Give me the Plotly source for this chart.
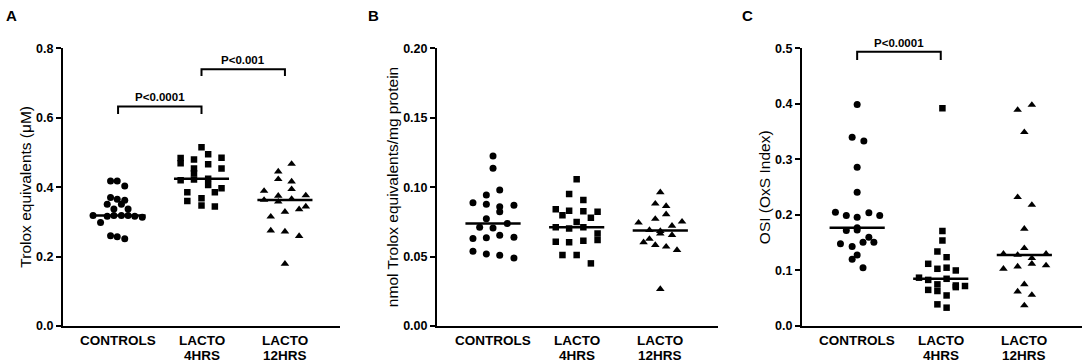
import numpy as np
import plotly.graph_objects as go

W, H = 1084, 363
FONT = "Arial, Liberation Sans, sans-serif"

categories = ["CONTROLS", "LACTO<br>4HRS", "LACTO<br>12HRS"]

# ---------------- Panel A : Trolox equivalents (uM) ----------------
a_controls = [0.418, 0.418, 0.403, 0.370, 0.365, 0.362, 0.351, 0.351, 0.337, 0.337,
              0.318, 0.316, 0.318, 0.318, 0.318, 0.316, 0.313, 0.298, 0.260, 0.257, 0.251]
a_controls_dx = [-0.09, -0.01, 0.08, -0.09, -0.01, 0.08, -0.13, 0.04, -0.05, 0.12,
                 -0.30, -0.13, -0.05, 0.04, 0.12, 0.20, 0.29, -0.21, -0.09, -0.01, 0.08]
a_4hrs = [0.515, 0.495, 0.485, 0.484, 0.480, 0.469, 0.466, 0.454, 0.454, 0.440,
          0.420, 0.422, 0.424, 0.406, 0.397, 0.385, 0.385, 0.368, 0.360, 0.347, 0.344]
a_4hrs_dx = [0.00, 0.08, 0.24, -0.25, -0.09, -0.25, 0.08, 0.24, -0.09, -0.09,
             -0.25, -0.09, 0.08, 0.08, 0.24, -0.17, 0.16, 0.00, -0.17, 0.00, 0.16]
a_12hrs = [0.467, 0.445, 0.423, 0.416, 0.394, 0.389, 0.363, 0.375, 0.358, 0.366,
           0.376, 0.344, 0.336, 0.329, 0.315, 0.275, 0.272, 0.259, 0.179]
a_12hrs_dx = [0.08, -0.08, -0.08, 0.08, 0.08, -0.25, -0.25, -0.08, -0.08, 0.08,
              0.25, 0.25, 0.17, 0.00, -0.17, -0.17, 0.00, 0.17, 0.00]

# ---------------- Panel B : nmol Trolox equivalents/mg protein ----------------
b_controls = [0.1224, 0.1136, 0.0979, 0.0943, 0.0888, 0.0876, 0.0859, 0.0823, 0.0869, 0.0773,
              0.0739, 0.0711, 0.0706, 0.0631, 0.0636, 0.0653, 0.0639, 0.0538, 0.0519, 0.0509, 0.0490]
b_controls_dx = [0.00, 0.00, 0.08, -0.08, -0.24, -0.08, 0.08, 0.08, 0.25, -0.08,
                 0.17, -0.16, 0.00, -0.24, -0.08, 0.08, 0.25, -0.24, -0.08, 0.08, 0.25]
b_4hrs = [0.1056, 0.0951, 0.0907, 0.0840, 0.0830, 0.0826, 0.0823, 0.0797, 0.0780, 0.0749,
          0.0711, 0.0703, 0.0711, 0.0667, 0.0619, 0.0614, 0.0607, 0.0603, 0.0511, 0.0511, 0.0451]
b_4hrs_dx = [0.00, -0.09, 0.08, -0.25, -0.09, 0.08, 0.25, -0.17, 0.17, 0.00,
             -0.25, -0.09, 0.08, 0.25, 0.25, 0.08, -0.25, -0.09, -0.17, 0.00, 0.17]
b_12hrs = [0.0963, 0.0881, 0.0864, 0.0804, 0.0771, 0.0744, 0.0751, 0.0722, 0.0691, 0.0684,
           0.0665, 0.0655, 0.0603, 0.0627, 0.0583, 0.0571, 0.0547, 0.0266]
b_12hrs_dx = [0.00, -0.06, 0.07, 0.07, -0.06, -0.26, 0.26, 0.14, -0.13, 0.00,
              0.00, 0.14, -0.20, -0.13, -0.06, 0.07, 0.20, 0.00]

# ---------------- Panel C : OSI (OxS Index) ----------------
c_controls = [0.399, 0.340, 0.333, 0.286, 0.241, 0.205, 0.199, 0.196, 0.204, 0.199,
              0.172, 0.173, 0.177, 0.160, 0.148, 0.143, 0.151, 0.151, 0.120, 0.128, 0.105]
c_controls_dx = [0.00, -0.06, 0.08, 0.00, 0.00, -0.26, -0.13, 0.00, 0.14, 0.27,
                 -0.13, 0.00, 0.00, 0.14, -0.20, -0.06, 0.07, 0.20, -0.06, 0.00, 0.07]
c_4hrs = [0.392, 0.171, 0.154, 0.134, 0.124, 0.112, 0.103, 0.105, 0.100, 0.087,
          0.083, 0.075, 0.085, 0.073, 0.072, 0.070, 0.065, 0.063, 0.055, 0.039, 0.033]
c_4hrs_dx = [0.02, 0.02, 0.02, -0.04, 0.07, -0.15, -0.04, 0.07, 0.18, -0.26,
             -0.15, -0.04, 0.07, 0.18, 0.29, 0.18, -0.15, -0.04, 0.07, -0.04, 0.07]
c_12hrs = [0.398, 0.389, 0.349, 0.232, 0.218, 0.175, 0.140, 0.130, 0.128, 0.122,
           0.130, 0.112, 0.103, 0.107, 0.109, 0.075, 0.062, 0.056, 0.037]
c_12hrs_dx = [0.09, -0.08, 0.00, -0.08, 0.09, 0.00, 0.00, -0.25, -0.08, 0.09,
              0.26, 0.09, -0.25, -0.08, 0.26, 0.00, -0.08, 0.09, 0.00]

y_titles = ["Trolox equivalents (μM)", "nmol Trolox equivalents/mg protein", "OSI (OxS Index)"]
panel_letters = ["A", "B", "C"]
y_ranges = [[0, 0.8], [0, 0.20], [0, 0.5]]
y_dticks = [0.2, 0.05, 0.1]
y_formats = [".1f", ".2f", ".1f"]

# significance brackets: (panel, from category, to category, bracket level, leg bottom, label level, text)
brackets = [
    (0, 0, 1, 0.632, 0.611, 0.661, "P<0.0001"),
    (0, 1, 2, 0.740, 0.720, 0.766, "P<0.001"),
    (2, 0, 1, 0.494, 0.479, 0.509, "P<0.0001"),
]

panels = [
    [(a_controls, a_controls_dx), (a_4hrs, a_4hrs_dx), (a_12hrs, a_12hrs_dx)],
    [(b_controls, b_controls_dx), (b_4hrs, b_4hrs_dx), (b_12hrs, b_12hrs_dx)],
    [(c_controls, c_controls_dx), (c_4hrs, c_4hrs_dx), (c_12hrs, c_12hrs_dx)],
]
symbols = ["circle", "square", "triangle-up"]
sizes = [7, 6.5, 7.5]

# layout geometry (pixels)
x_domains_px = [(63, 340), (437, 718), (802, 1082)]
x_ranges = [[-0.66, 2.66], [-0.67, 2.69], [-0.66, 2.69]]
y_top_px, y_bot_px = 48.3, 326
title_x_px = [25.5, 392, 764]
letter_x_px = [11.5, 373, 747]
cat_line_px = [340, 355]

fig = go.Figure()
layout = dict(
    width=W, height=H, margin=dict(l=0, r=0, t=0, b=0, autoexpand=False),
    paper_bgcolor="white", plot_bgcolor="white", showlegend=False,
    font=dict(family=FONT, color="black"),
)
annotations = []
shapes = []
ydom = [1 - y_bot_px / H, 1 - y_top_px / H]


def to_paper_y(p, v):
    lo, hi = y_ranges[p]
    return ydom[0] + (v - lo) / (hi - lo) * (ydom[1] - ydom[0])


for p in range(3):
    sfx = "" if p == 0 else str(p + 1)
    xa, ya = "x" + sfx, "y" + sfx
    for g, (vals, dx) in enumerate(panels[p]):
        xs = [g + d for d in dx]
        fig.add_trace(go.Scatter(
            x=xs, y=vals, mode="markers", xaxis=xa, yaxis=ya,
            marker=dict(symbol=symbols[g], size=sizes[g], color="black", line=dict(width=0)),
            hoverinfo="y"))
        med = float(np.median(vals))
        fig.add_trace(go.Scatter(
            x=[g - 0.33, g + 0.33], y=[med, med], mode="lines", xaxis=xa, yaxis=ya,
            line=dict(color="black", width=2.5), hoverinfo="skip"))
        # category label lines (drawn as annotations for tight line spacing)
        for li, line in enumerate(categories[g].split("<br>")):
            annotations.append(dict(
                text="<b>%s</b>" % line, xref=xa, yref="paper", x=g,
                y=1 - cat_line_px[li] / H, showarrow=False,
                xanchor="center", yanchor="middle",
                font=dict(family=FONT, size=13.5, color="black")))
    d0, d1 = x_domains_px[p]
    layout["xaxis" + sfx] = dict(
        domain=[d0 / W, d1 / W], range=x_ranges[p], anchor=ya,
        tickvals=[0, 1, 2], showticklabels=False, ticks="", automargin=False,
        showline=True, linecolor="black", linewidth=2, showgrid=False, zeroline=False,
        fixedrange=True)
    layout["yaxis" + sfx] = dict(
        domain=ydom, range=y_ranges[p], anchor=xa, dtick=y_dticks[p], tick0=0,
        tickformat=y_formats[p], ticks="outside", ticklen=5, tickwidth=2, tickcolor="black",
        tickfont=dict(family=FONT, size=12.5, color="black", weight="bold"),
        showline=True, linecolor="black", linewidth=2, showgrid=False, zeroline=False,
        automargin=False, fixedrange=True)
    annotations.append(dict(
        text=y_titles[p], xref="paper", yref="paper", x=title_x_px[p] / W,
        y=(ydom[0] + ydom[1]) / 2, textangle=-90, showarrow=False,
        xanchor="center", yanchor="middle",
        font=dict(family=FONT, size=15.5, color="black")))
    annotations.append(dict(
        text="<b>%s</b>" % panel_letters[p], xref="paper", yref="paper",
        x=letter_x_px[p] / W, y=1 - 15.5 / H, showarrow=False,
        xanchor="center", yanchor="middle",
        font=dict(family=FONT, size=15, color="black")))

for (p, c0, c1, level, leg, lab, txt) in brackets:
    sfx = "" if p == 0 else str(p + 1)
    xa, ya = "x" + sfx, "y" + sfx
    shapes.append(dict(
        type="path", xref=xa, yref=ya,
        path="M %s,%s L %s,%s L %s,%s L %s,%s" % (c0, leg, c0, level, c1, level, c1, leg),
        line=dict(color="black", width=2)))
    annotations.append(dict(
        text="<b>%s</b>" % txt, xref=xa, yref="paper", x=(c0 + c1) / 2, y=to_paper_y(p, lab),
        showarrow=False, xanchor="center", yanchor="middle",
        font=dict(family=FONT, size=11.5, color="black")))

layout["annotations"] = annotations
layout["shapes"] = shapes
fig.update_layout(**layout)
fig.write_html(
    "out.html",
    config={"displayModeBar": False},
    post_script="document.body.style.margin='0px';document.body.style.overflow='hidden';",
)
